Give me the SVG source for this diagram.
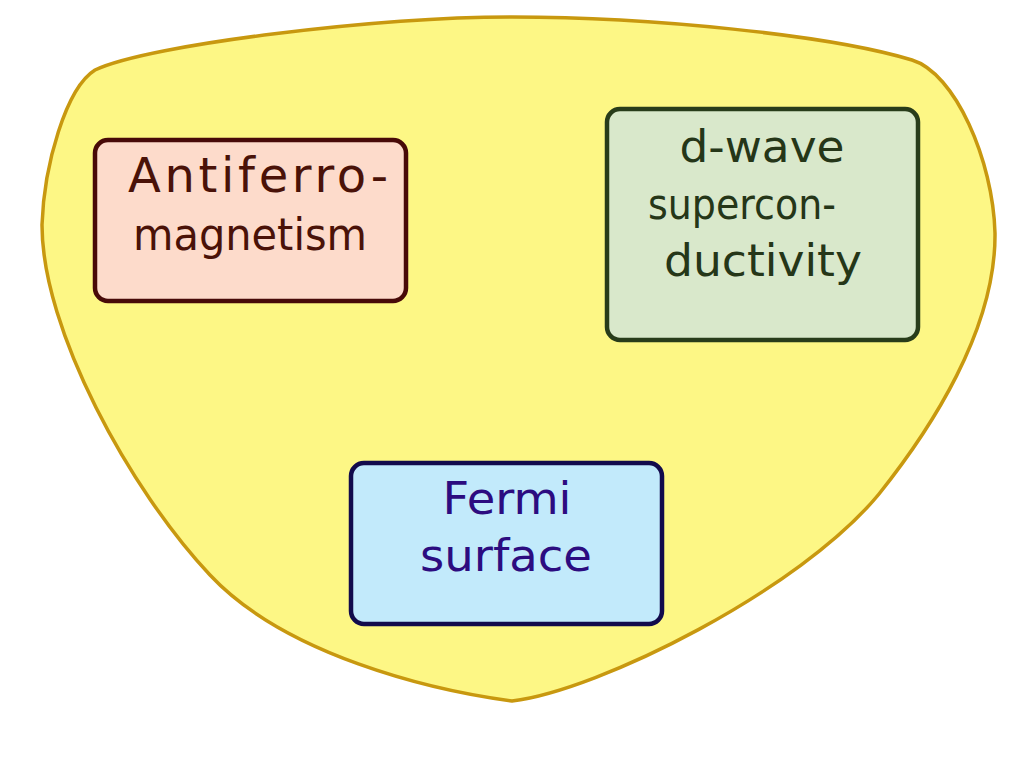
<svg xmlns="http://www.w3.org/2000/svg" width="1024" height="768" viewBox="0 0 1024 768">
<style>
.lbl{font-family:"Comic Sans MS","DejaVu Sans",sans-serif;font-size:45px;text-anchor:middle}
.box{stroke-width:4.5}
</style>
<rect width="1024" height="768" fill="#ffffff"/>
<g id="region">
<path d="M512,17 C650,17 830,35 912,60 C955,73 993,160 995,233 C996,330 930,430 879,494 C800,590 600,690 512,701 C430,690 285,655 210,575 C130,490 42,330 42,225 C44,165 66,88 95,70 C150,44 380,17 512,17 Z" fill="#fdf785" stroke="#c8980f" stroke-width="3.5"/>
</g>
<g id="afm">
<rect class="box" x="95" y="140" width="311" height="161" rx="13" fill="#fddbcb" stroke="#480a08"/>
<text class="lbl" x="258" y="192" fill="#4a1208" style="font-size:48px" textLength="260" lengthAdjust="spacing">Antiferro-</text>
<text class="lbl" x="250" y="250" fill="#4a1208" textLength="234" lengthAdjust="spacingAndGlyphs">magnetism</text>
</g>
<g id="dwave">
<rect class="box" x="607" y="109" width="311" height="231" rx="13" fill="#d9e8cb" stroke="#283c1a"/>
<text class="lbl" x="762" y="162" fill="#253618" textLength="165" lengthAdjust="spacingAndGlyphs">d-wave</text>
<text class="lbl" x="742" y="219" fill="#253618" style="font-size:43px" textLength="188" lengthAdjust="spacingAndGlyphs">supercon-</text>
<text class="lbl" x="763" y="276" fill="#253618" textLength="198" lengthAdjust="spacingAndGlyphs">ductivity</text>
</g>
<g id="fermi">
<rect class="box" x="351" y="463" width="311" height="161" rx="13" fill="#c2eafb" stroke="#120b4c"/>
<text class="lbl" x="507" y="514" fill="#2c0c80" textLength="129" lengthAdjust="spacingAndGlyphs">Fermi</text>
<text class="lbl" x="506" y="571" fill="#2c0c80" textLength="172" lengthAdjust="spacingAndGlyphs">surface</text>
</g>
<g id="connectors"></g>
</svg>
